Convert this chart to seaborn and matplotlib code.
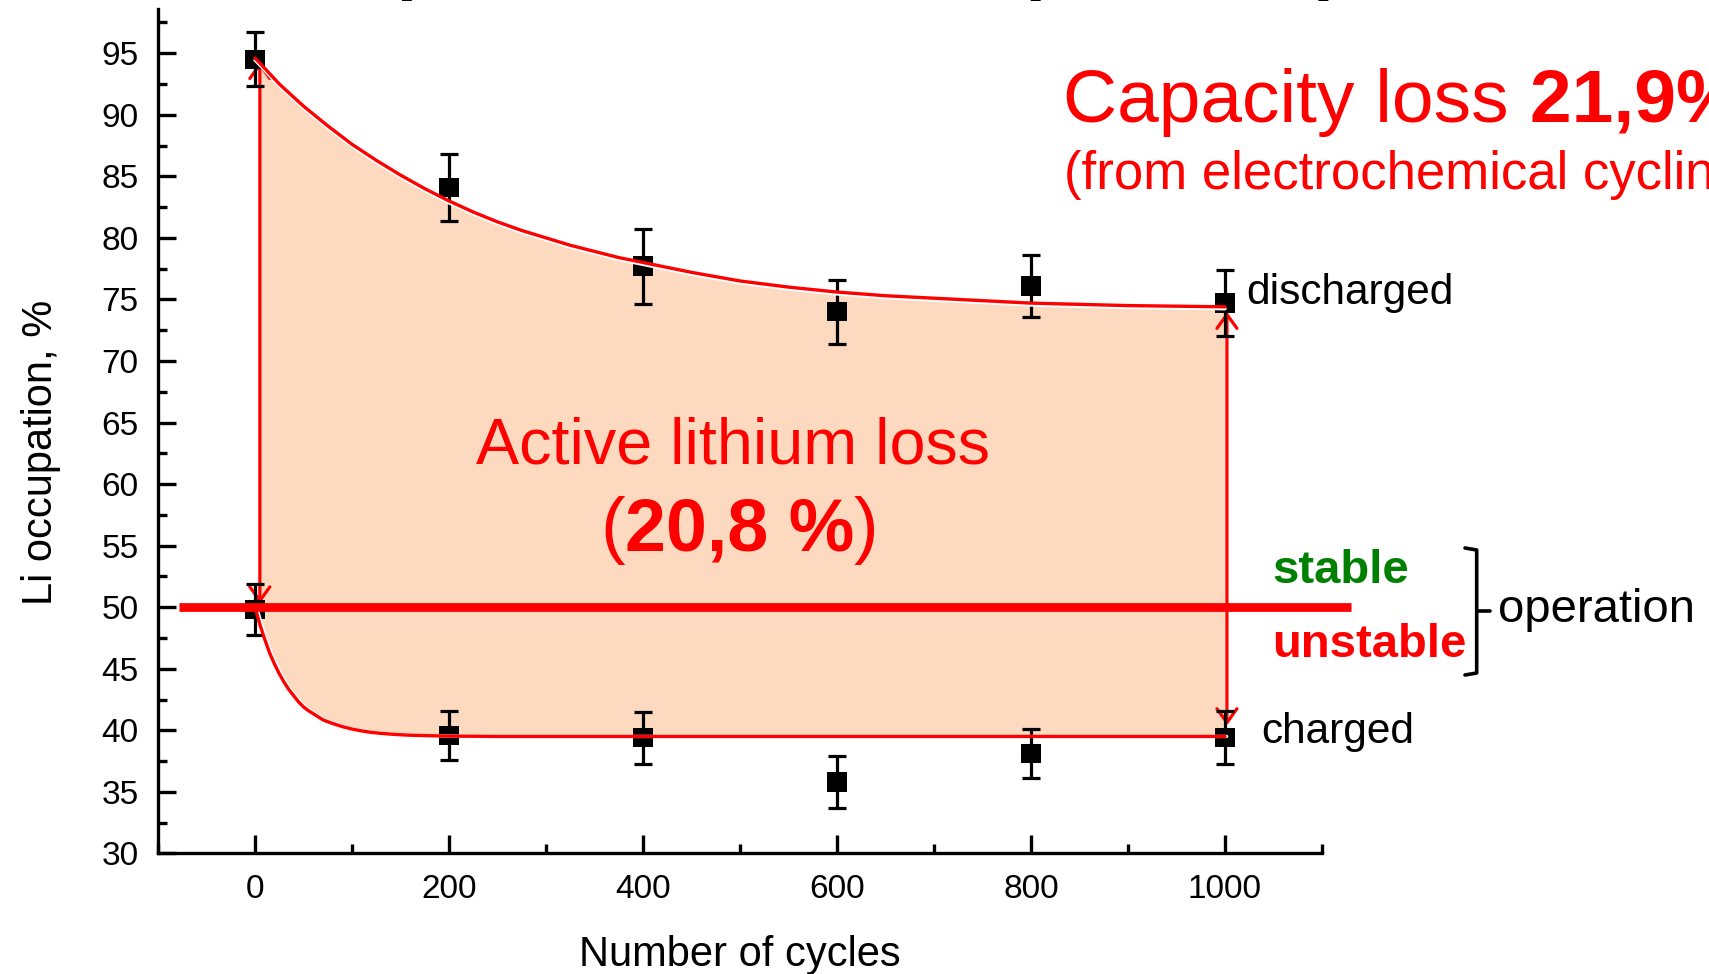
import numpy as np
import matplotlib
matplotlib.use("Agg")
import matplotlib.pyplot as plt
import matplotlib.patheffects as pe
from matplotlib.lines import Line2D
from matplotlib.ticker import MultipleLocator
import seaborn as sns

# Li occupation (%) measured after cycling, with uncertainties
cycles = [0, 200, 400, 600, 800, 1000]
discharged = [94.5, 84.1, 77.7, 74.0, 76.1, 74.7]
discharged_err = [2.2, 2.7, 3.05, 2.6, 2.5, 2.65]
charged = [49.8, 39.6, 39.4, 35.8, 38.1, 39.4]
charged_err = [2.05, 2.0, 2.1, 2.1, 2.0, 2.15]

# guide curves through the discharged and charged states
upper_x = [0, 5, 25, 50, 75, 100, 125, 150, 175, 200, 225, 250, 275, 300, 325, 350, 375, 400,
           450, 500, 550, 600, 650, 700, 750, 800, 850, 900, 950, 1000]
upper_y = [94.6, 94.2, 92.5, 90.7, 89.1, 87.6, 86.3, 85.1, 84.0, 83.0, 82.1, 81.3, 80.6, 80.0,
           79.4, 78.9, 78.4, 78.0, 77.2, 76.5, 76.0, 75.6, 75.3, 75.1, 74.9, 74.7, 74.6,
           74.5, 74.45, 74.4]
lower_x = [0, 5, 10, 15, 20, 25, 30, 35, 40, 45, 50, 55, 60, 65, 70, 75, 80, 90, 100, 110, 120,
           130, 145, 160, 180, 200, 250, 300, 400, 500, 600, 700, 800, 900, 1000]
lower_y = [50.0, 48.6, 47.4, 46.3, 45.4, 44.6, 43.9, 43.3, 42.8, 42.3, 41.9, 41.6, 41.35, 41.1,
           40.85, 40.7, 40.55, 40.3, 40.1, 39.95, 39.83, 39.75, 39.66, 39.6, 39.56, 39.53, 39.5,
           39.5, 39.5, 39.5, 39.5, 39.5, 39.5, 39.5, 39.5]

# loss arrows (cycle, from %, to %)
arrow_x = [5, 1002]
arrow_from = [50.3, 40.4]
arrow_to = [94.3, 74.0]

# stability limit
limit_level = 50
limit_span = [-78, 1130]

x_ticks = [0, 200, 400, 600, 800, 1000]
y_ticks = [30, 35, 40, 45, 50, 55, 60, 65, 70, 75, 80, 85, 90, 95]

sns.set_theme(style="ticks")
plt.rcParams["font.family"] = ["Liberation Sans", "DejaVu Sans"]
plt.rcParams["mathtext.fontset"] = "custom"
plt.rcParams["mathtext.rm"] = "Liberation Sans"
plt.rcParams["mathtext.bf"] = "Liberation Sans:bold"
plt.rcParams["mathtext.it"] = "Liberation Sans:italic"

W, H = 1709, 974
fig = plt.figure(figsize=(W / 100, H / 100), dpi=100, facecolor="white")
ax = fig.add_axes([158 / W, 1 - 853.4 / H, (1322 - 158) / W, (853.4 - 8.9) / H])
ax.set_facecolor("white")


def px(x, y):
    return x / W, 1 - y / H


RED = "#ff0000"
PEACH = "#fdd9bf"

# shaded region between the two guide curves
ux, uy = np.asarray(upper_x, float), np.asarray(upper_y, float)
lx, ly = np.asarray(lower_x, float), np.asarray(lower_y, float)
um = ux >= arrow_x[0]
lm = lx >= arrow_x[0]
ax.fill(np.r_[ux[um], lx[lm][::-1]], np.r_[uy[um], ly[lm][::-1]],
        color=PEACH, lw=0, zorder=1)

# loss arrows sit beneath the markers
for xa, y0, y1 in zip(arrow_x, arrow_from, arrow_to):
    ax.annotate("", xy=(xa, y1), xytext=(xa, y0), zorder=1.5,
                arrowprops=dict(arrowstyle="<->,head_length=0.5,head_width=0.36",
                                color=RED, lw=2.3, shrinkA=0, shrinkB=0,
                                mutation_scale=20))

# error bars and markers
for vals, errs in ((discharged, discharged_err), (charged, charged_err)):
    ax.errorbar(cycles, vals, yerr=errs, fmt="none", ecolor="black",
                elinewidth=2.3, capsize=6.3, capthick=2.3, zorder=2)
    sns.scatterplot(x=cycles, y=vals, marker="s", s=195, color="black",
                    edgecolor="none", ax=ax, zorder=3, legend=False)

# guide curves, each with a thin white edge on the shaded side
sns.lineplot(x=upper_x, y=upper_y, color=RED, lw=2.4, ax=ax, sort=False,
             estimator=None, zorder=4)
sns.lineplot(x=lower_x, y=lower_y, color=RED, lw=2.4, ax=ax, sort=False,
             estimator=None, zorder=4)
curve_lines = ax.get_lines()[-2:]
curve_lines[0].set_path_effects([pe.SimpleLineShadow(offset=(0, -1.4), shadow_color="white",
                                                     alpha=1.0), pe.Normal()])
curve_lines[1].set_path_effects([pe.SimpleLineShadow(offset=(1.2, 0), shadow_color="white",
                                                     alpha=1.0), pe.Normal()])

# stability limit line
ax.plot(limit_span, [limit_level, limit_level], color=RED, lw=6.3,
        solid_capstyle="butt", clip_on=False, zorder=5)

# axes styling
ax.set_xlim(-100, 1100)
ax.set_ylim(30, 98.6)
ax.set_xticks(x_ticks)
ax.set_yticks(y_ticks)
ax.xaxis.set_minor_locator(MultipleLocator(100))
ax.yaxis.set_minor_locator(MultipleLocator(2.5))
for side in ("top", "right"):
    ax.spines[side].set_visible(False)
for side in ("left", "bottom"):
    ax.spines[side].set_linewidth(2.4)
    ax.spines[side].set_color("black")
ax.tick_params(axis="both", which="major", direction="in", length=13, width=2.4,
               labelsize=24, colors="black")
ax.tick_params(axis="both", which="minor", direction="in", length=6.5, width=2.4,
               colors="black")
ax.tick_params(axis="y", which="major", pad=14)
ax.tick_params(axis="x", which="major", pad=15)

ax.set_xlabel("Number of cycles", fontsize=30, color="black")
ax.set_ylabel("Li occupation, %", fontsize=30, color="black")
ax.xaxis.set_label_coords(0.5, -0.0966)
ax.yaxis.set_label_coords(-0.0830, 0.4753)


def chain(x, y, parts):
    """Write text pieces one after another on a common baseline."""
    prev = None
    for s, kw in parts:
        if prev is None:
            prev = ax.text(*px(x, y), s, transform=fig.transFigure, ha="left",
                           va="baseline", clip_on=False, **kw)
        else:
            prev = ax.annotate(s, xy=(1, 0), xycoords=prev, ha="left", va="bottom",
                               annotation_clip=False, **kw)
    return prev


# headline (runs past the top edge)
fig.text(*px(144, -14), r"Li occupation in Li$_\mathbf{x}$CoO$_\mathbf{2}$ (cathode)",
         fontsize=52, fontweight="bold", color="black", ha="left", va="baseline")

# capacity loss note
chain(1063, 121.7, [("Capacity loss", dict(fontsize=54, color=RED)),
                    (" 21,9%", dict(fontsize=54, color=RED, fontweight="bold"))])
fig.text(*px(1064, 189.3), "(from electrochemical cycling)", fontsize=38, color=RED,
         ha="left", va="baseline")

# active lithium loss label
fig.text(*px(733.5, 463), "Active lithium loss", fontsize=46.5, color=RED,
         ha="center", va="baseline")
chain(600, 550, [("(", dict(fontsize=53, color=RED)),
                 ("20,8 %", dict(fontsize=53, color=RED, fontweight="bold")),
                 (")", dict(fontsize=53, color=RED))])

# state labels
fig.text(*px(1246, 304), "discharged", fontsize=30.5, color="black", ha="left", va="baseline")
fig.text(*px(1261, 742.7), "charged", fontsize=30.5, color="black", ha="left", va="baseline")
fig.text(*px(1272, 583.3), "stable", fontsize=34, fontweight="bold", color="#008000",
         ha="left", va="baseline")
fig.text(*px(1272, 657.3), "unstable", fontsize=34, fontweight="bold", color=RED,
         ha="left", va="baseline")
fig.text(*px(1498, 621.7), "operation", fontsize=34, color="black", ha="left", va="baseline")

# bracket grouping stable / unstable
bx = [1465, 1476.7, 1476.7, 1465]
by = [548, 550, 673, 675]
fig.add_artist(Line2D([b / W for b in bx], [1 - b / H for b in by], color="black",
                      lw=2.6, solid_joinstyle="round", solid_capstyle="round",
                      transform=fig.transFigure))
fig.add_artist(Line2D([1476.7 / W, 1490 / W], [1 - 611 / H, 1 - 611 / H], color="black",
                      lw=2.6, solid_capstyle="round", transform=fig.transFigure))

fig.savefig("out.png", dpi=100, facecolor="white")
